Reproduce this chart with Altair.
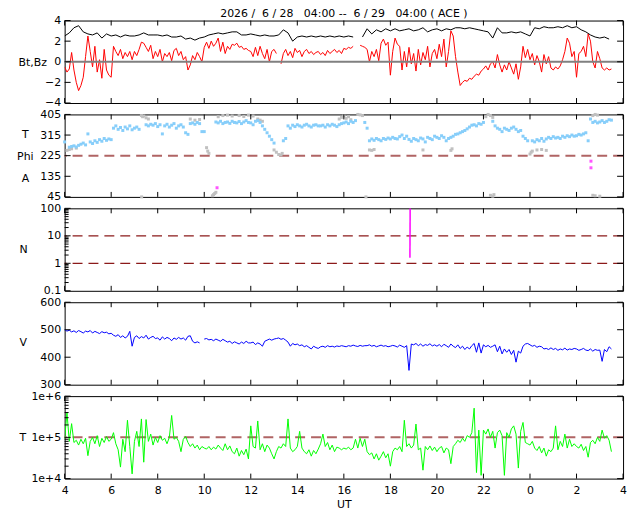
import altair as alt
import pandas as pd

FONT = "DejaVu Sans"
FS = 11
W, H = 562, 83

TITLE = "2026 /  6 / 28   04:00 --  6 / 29   04:00 ( ACE )".replace(" ", "\u00a0")

TICK_HOURS = list(range(4, 29, 2))

# Bz (nT), 0.1 h steps, one row per hour starting at 04 UT
BZ = [
    [-0.5, -1.0, -0.7, 0.9, -0.8, -2.0, -2.8, -2.3, -1.5, 0.5],
    [2.5, 1.0, -0.5, 1.5, -1.0, 0.2, -1.6, 1.2, -0.8, -1.3],
    [-1.5, 1.5, 1.0, 0.6, 1.2, 0.3, 0.9, 0.5, 1.0, 0.2],
    [1.0, 0.6, 1.2, 1.9, 1.8, 1.4, 1.0, 1.6, 0.3, 1.0],
    [0.5, 1.2, 0.0, 0.8, 0.5, 0.9, 0.1, 1.1, 1.3, 0.6],
    [1.0, 0.2, 0.5, -0.8, -0.3, 0.6, 0.2, 0.9, 0.5, 0.0],
    [1.4, 1.9, 1.3, 2.0, 1.5, 1.8, 2.3, 1.0, 1.9, 0.8],
    [1.5, 1.2, 1.7, 1.6, 1.8, 1.4, 1.5, 1.2, 1.3, 1.1],
    [1.0, 0.5, 1.4, 0.6, 1.5, 0.8, 0.3, 1.2, 0.0, 1.0],
    [1.2, 0.8, None, -0.2, 0.8, 1.2, 0.6, 1.0, 0.4, 1.3],
    [0.9, 1.1, 0.5, 1.0, 1.2, 0.8, 1.0, 0.7, 0.9, 1.0],
    [0.7, 0.9, 0.6, 1.1, 0.8, 1.0, 1.2, 0.9, 1.1, 0.8],
    [1.3, 1.2, 1.4, 1.3, 1.5, None, None, 1.6, 1.5, 1.4],
    [1.2, 0.0, 1.0, 0.5, 1.2, 0.1, 1.8, 2.2, 1.6, 1.9],
    [-1.3, 1.0, 2.3, 1.7, 1.5, -0.8, 1.0, -0.5, 1.4, -0.2],
    [0.8, -0.9, 1.2, -0.3, 0.9, 0.2, 1.5, -0.5, 0.8, 1.2],
    [0.3, 1.7, 0.5, 2.2, -0.5, 1.0, 3.0, 2.5, 0.5, -1.0],
    [-2.3, -2.0, -1.8, -1.9, -1.6, -1.7, -1.4, -1.2, -1.3, -0.9],
    [-0.7, -0.4, -0.8, -0.2, 0.0, -0.6, 0.7, -0.3, -1.0, -0.3],
    [-0.8, 0.0, -0.6, -1.2, -0.2, -1.7, -0.5, 1.5, 0.4, 1.2],
    [0.2, 0.8, -0.3, 0.6, 0.0, -1.0, 0.7, -0.2, 0.5, -0.6],
    [-0.8, -0.5, -0.7, -0.4, 0.2, 1.0, 2.3, 1.8, 0.5, 1.0],
    [-1.5, 0.8, 1.0, 1.5, 0.5, 2.7, 2.0, 0.0, -0.6, 1.0],
    [0.3, -0.6, -0.8, -0.6, -0.8, -0.7],
]

# Bt (nT), 0.2 h steps
BT = [
    [2.5, 2.8, 3.3, 3.5, 2.9],
    [2.7, 2.6, 2.8, 2.3, 2.7],
    [2.5, 2.6, 2.4, 2.6, 2.5],
    [2.5, 2.6, 2.8, 2.6, 2.6],
    [2.6, 2.5, 2.6, 2.4, 2.4],
    [2.5, 2.2, 2.3, 2.1, 2.3],
    [2.4, 2.6, 2.7, 2.8, 2.7],
    [2.8, 2.9, 2.9, 2.6, 2.6],
    [2.7, 2.6, 2.5, 2.6, 2.5],
    [2.5, 2.6, 3.1, 2.8, 2.0],
    [2.4, 2.5, 2.4, 2.5, 2.4],
    [2.5, 2.4, 2.5, 2.4, 2.5],
    [2.4, 2.5, 2.4, None, 2.4],
    [3.2, 2.7, 3.1, 2.9, 3.2],
    [3.0, 3.2, 3.0, 3.1, 3.2],
    [3.0, 3.1, 3.3, 2.9, 3.1],
    [3.2, 3.0, 3.2, 3.1, 3.3],
    [3.3, 3.2, 3.3, 3.2, 3.1],
    [3.0, 2.9, 2.3, 3.3, 2.8],
    [2.8, 2.9, 2.8, 2.9, 2.7],
    [2.5, 3.3, 3.2, 3.4, 3.3],
    [3.3, 3.4, 3.3, 3.5, 3.3],
    [3.4, 3.1, 2.9, 2.6, 2.4],
    [2.3, 2.4, 2.2],
]

# Phi (deg), 0.1 h steps, blue points
PHI = [
    [285, None, 262, 265, 268, 263, 270, 275, 280, 272],
    [320, 285, 278, 290, 283, 295, 288, 300, 292, 298],
    [295, 345, 355, 340, 348, 335, 350, 342, 355, 338],
    [345, 350, 340, None, None, 360, 355, 362, 358, 365],
    [352, 360, 320, 355, 362, 350, 358, 365, 345, 355],
    [360, 350, 325, 318, 365, 368, 362, 370, 365, 330],
    [330, None, None, None, None, 372, 368, 375, 365, 370],
    [372, 366, 375, 370, 368, 374, 365, 372, 378, 370],
    [368, 360, 375, 378, 370, 355, 340, 325, 310, 295],
    [280, None, None, None, 290, 300, 355, 345, 358, 352],
    [360, 355, 350, 358, 362, 355, 350, 358, 360, 355],
    [355, 358, 350, 360, 355, 362, 358, 352, 360, 365],
    [368, 372, 365, 375, 370, 378, None, None, None, 370],
    [345, 290, 298, 292, 300, 295, 290, 300, 296, 302],
    [298, 305, 300, 298, 308, 315, 300, 310, 296, 288],
    [300, 295, 290, 302, 298, 285, 305, 300, 295, 310],
    [305, 300, 312, 305, 290, 300, 305, 310, 318, 320],
    [325, 330, 335, 342, 350, 358, 360, 355, 365, 362],
    [370, None, None, None, 375, 355, 345, 340, 330, 345],
    [340, 335, 345, 350, 340, 330, 335, 310, 300, 290],
    [None, 290, 285, 295, 290, 300, 288, 298, 305, 300],
    [308, 302, 305, 300, 310, 305, 312, 308, 315, 310],
    [312, 318, 315, 320, 325, 290, 385, 370, 375, 368],
    [372, 378, 370, 375, 382, 380],
]

PHI_GREY_T = [4.1, 4.2, 4.3, 4.5, 7.3, 7.35, 7.4, 7.5, 7.6, 7.31, 9.4, 9.6, 9.8,
              10.1, 10.15, 10.2, 10.35, 10.4, 10.45, 10.5,
              10.6, 10.8, 11.0, 11.2, 11.5, 11.7, 11.9, 12.1, 12.3, 12.4, 12.5,
              13.0, 13.1, 13.2, 13.3, 13.35,
              15.8, 15.9, 16.0, 16.1, 16.2, 16.3, 16.6, 16.7, 16.8, 16.95,
              17.1, 17.2, 17.3, 19.4, 20.6, 20.65,
              22.1, 22.2, 22.3, 22.4, 22.3, 22.4, 22.45,
              24.0, 24.05, 24.1, 24.3, 24.5, 24.7,
              26.7, 26.8, 26.9, 26.7, 26.8, 27.0]
PHI_GREY_V = [248, 252, 255, 258, 400, 395, 398, 390, 385, 45, 385, 380, 383,
              260, 245, 235, 50, 55, 60, 65,
              395, 400, 402, 398, 400, 396, 402, 398, 385, 380, 375,
              250, 240, 230, 228, 235,
              385, 392, 398, 388, 395, 382, 405, 403, 400, 45,
              250, 248, 252, 250, 248, 255,
              395, 405, 400, 392, 52, 48, 55,
              232, 240, 245, 250, 252, 248,
              400, 405, 402, 52, 50, 48]
PHI_MAG_T = [10.55, 26.62, 26.62]
PHI_MAG_V = [85, 201, 172]

# N (p/cc)
N_T = [18.84, 18.85]
N_V = [1.6, 100]

# V (km/s), 0.1 h steps
V = [
    [500, 495, 498, 492, 496, 490, 497, 493, 488, 495],
    [492, 497, 488, 494, 490, 486, 493, 489, 491, 485],
    [487, 480, 476, 482, 472, 478, 470, 476, 494, 440],
    [472, 478, 468, 475, 470, 480, 466, 472, 476, 468],
    [470, 462, 474, 466, 472, 468, 460, 470, 465, 472],
    [466, 470, 462, 476, 478, 458, 452, 456, 452, None],
    [466, 468, 463, 465, 460, 466, 462, 458, 465, 460],
    [455, 458, 450, 456, 452, 448, 455, 450, 458, 452],
    [452, 455, 446, 452, 448, 440, 458, 462, 466, 462],
    [466, 468, 470, 465, 468, 462, 455, 440, 450, 445],
    [448, 442, 445, 438, 442, 436, 430, 440, 435, 432],
    [438, 440, 436, 442, 438, 440, 437, 441, 439, 442],
    [440, 438, 442, 440, 444, 441, 439, 443, 440, 442],
    [442, 445, 440, 443, 438, 441, 444, 440, 442, 438],
    [440, 443, 441, 437, 444, 440, 436, 442, 352, 448],
    [445, 450, 442, 448, 440, 446, 443, 449, 441, 445],
    [440, 446, 438, 447, 442, 436, 448, 440, 435, 445],
    [432, 440, 428, 437, 430, 442, 450, 418, 452, 415],
    [445, 438, 443, 436, 440, 445, 420, 440, 412, 430],
    [418, 428, 410, 425, 382, 422, 415, 440, 448, 450],
    [445, 440, 443, 436, 440, 438, 430, 432, 428, 434],
    [428, 432, 425, 430, 427, 433, 426, 430, 428, 432],
    [430, 425, 428, 432, 426, 424, 430, 422, 428, 425],
    [426, 385, 428, 420, 438, 430],
]

# T (thousands of K), 0.1 h steps
TEMP = [
    [90, 400, 80, 215, 75, 85, 65, 90, 70, 95],
    [36, 80, 100, 70, 110, 60, 95, 75, 105, 80],
    [90, 130, 70, 50, 19, 90, 45, 260, 60, 13],
    [80, 140, 60, 280, 25, 270, 80, 120, 65, 100],
    [75, 110, 85, 95, 70, 100, 340, 90, 100, 80],
    [45, 90, 105, 75, 60, 70, 55, 65, 50, 60],
    [55, 52, 60, 50, 58, 52, 65, 55, 48, 70],
    [50, 62, 45, 40, 55, 35, 48, 38, 52, 30],
    [190, 60, 55, 250, 50, 70, 45, 65, 55, 40],
    [30, 45, 60, 55, 70, 60, 280, 55, 45, 50],
    [60, 140, 55, 45, 40, 50, 35, 48, 40, 52],
    [70, 120, 60, 75, 50, 65, 45, 58, 55, 50],
    [55, 52, 58, 50, 55, 90, 55, 95, 60, 90],
    [45, 38, 42, 30, 40, 28, 35, 45, 32, 40],
    [20, 45, 55, 50, 60, 45, 260, 60, 70, 55],
    [65, 210, 50, 55, 16, 60, 50, 62, 48, 58],
    [45, 55, 60, 42, 55, 50, 23, 60, 70, 85],
    [75, 95, 80, 110, 100, 130, 510, 14, 150, 12],
    [150, 120, 160, 100, 140, 55, 130, 150, 110, 12],
    [130, 100, 160, 190, 120, 18, 140, 230, 75, 70],
    [65, 80, 55, 48, 60, 42, 55, 35, 50, 45],
    [55, 190, 50, 80, 60, 120, 55, 90, 60, 70],
    [60, 55, 68, 48, 60, 33, 75, 85, 70, 100],
    [80, 150, 95, 110, 85, 45],
]


def series(rows, step, scale=1.0):
    ts, vs, segs = [], [], []
    seg = 0
    for i, row in enumerate(rows):
        for k, v in enumerate(row):
            if v is None:
                seg += 1
                continue
            ts.append(round(4 + i + k * step, 3))
            vs.append(v * scale)
            segs.append(seg)
    return pd.DataFrame({"t": ts, "v": vs, "seg": segs})


XSCALE = alt.Scale(domain=[4, 28], nice=False, zero=False)
XAXIS = alt.Axis(values=TICK_HOURS, labelExpr="'' + (datum.value % 24)", title="UT",
                 ticks=False, domain=False, grid=False, labelPadding=6, labelFlush=False,
                 labelOverlap=False, labelFont=FONT, labelFontSize=FS, titleFont=FONT,
                 titleFontSize=FS, titleFontWeight="normal", titlePadding=3,
                 labelColor="black", titleColor="black")


def yaxis(title, values, tx, ty, align="left", fmt=None, expr=None, lh=None):
    kw = dict(title=title, values=values, titleAngle=0, titleAlign=align,
              titleBaseline="middle", titleX=tx, titleY=ty, ticks=False, domain=False,
              grid=False, labelPadding=4, labelOverlap=False, labelFontSize=FS,
              titleFontSize=FS, labelFont=FONT, titleFont=FONT, titleFontWeight="normal",
              labelColor="black", titleColor="black", labelFlush=False)
    if fmt:
        kw["format"] = fmt
    if expr:
        kw["labelExpr"] = expr
    if lh:
        kw["titleLineHeight"] = lh
    return alt.Axis(**kw)


def encs(yscale, yax, bottom=False):
    xa = XAXIS if bottom else None

    def X():
        return alt.X("t:Q", scale=XSCALE, axis=xa)

    def Y():
        return alt.Y("v:Q", scale=yscale, axis=yax)
    return X, Y


def frame(X, Y, major, minor=()):
    xt = pd.DataFrame({"t": TICK_HOURS})
    yt = pd.DataFrame({"v": major})
    out = [
        alt.Chart(xt).mark_rule(color="black").encode(x=X(), y=alt.value(0), y2=alt.value(5)),
        alt.Chart(xt).mark_rule(color="black").encode(x=X(), y=alt.value(H - 5), y2=alt.value(H)),
        alt.Chart(yt).mark_rule(color="black").encode(y=Y(), x=alt.value(0), x2=alt.value(6)),
        alt.Chart(yt).mark_rule(color="black").encode(y=Y(), x=alt.value(W - 6), x2=alt.value(W)),
    ]
    if minor:
        ym = pd.DataFrame({"v": list(minor)})
        out.append(alt.Chart(ym).mark_rule(color="black").encode(y=Y(), x=alt.value(0), x2=alt.value(4)))
    return out


def refline(Y, value, color, width, dash):
    return alt.Chart(pd.DataFrame({"v": [value]})).mark_rule(
        color=color, strokeWidth=width, strokeDash=dash).encode(y=Y())


def line(df, X, Y, color, width=1.0):
    return alt.Chart(df).mark_line(color=color, strokeWidth=width, clip=True).encode(
        x=X(), y=Y(), detail="seg:N")


# Panel 1: Bt, Bz
X1, Y1 = encs(alt.Scale(domain=[-4, 4], nice=False, zero=False),
              yaxis("Bt,Bz", [-4, -2, 0, 2, 4], -47, 42, fmt="d"))
p1 = alt.layer(
    line(series(BT, 0.2), X1, Y1, "black"),
    line(series(BZ, 0.1), X1, Y1, "#ff0000"),
    refline(Y1, 0, "#808080", 2, [1, 0]),
    *frame(X1, Y1, [-4, -2, 0, 2, 4]),
).properties(width=W, height=H, title=alt.TitleParams(
    TITLE, font=FONT, fontSize=FS, fontWeight="normal", color="black", offset=-4, anchor="middle"))

# Panel 2: Phi
X2, Y2 = encs(alt.Scale(domain=[45, 405], nice=False, zero=False),
              yaxis(["T", "Phi", "A"], [45, 135, 225, 315, 405], -40, 20, align="center", fmt="d", lh=22))
phi_blue = series(PHI, 0.1)
phi_grey = pd.DataFrame({"t": PHI_GREY_T, "v": PHI_GREY_V})
phi_mag = pd.DataFrame({"t": PHI_MAG_T, "v": PHI_MAG_V})
p2 = alt.layer(
    refline(Y2, 225, "#b06464", 2, [10, 6]),
    alt.Chart(phi_grey).mark_square(size=9, color="#c0c0c0", opacity=1).encode(x=X2(), y=Y2()),
    alt.Chart(phi_blue).mark_square(size=9, color="#87cefa", opacity=1).encode(x=X2(), y=Y2()),
    alt.Chart(phi_mag).mark_square(size=9, color="#ff55ff", opacity=1).encode(x=X2(), y=Y2()),
    *frame(X2, Y2, [45, 135, 225, 315, 405]),
).properties(width=W, height=H)

# Panel 3: N
log_minor_n = [0.2, 0.3, 0.4, 0.5, 0.6, 0.7, 0.8, 0.9, 2, 3, 4, 5, 6, 7, 8, 9,
               20, 30, 40, 50, 60, 70, 80, 90]
X3, Y3 = encs(alt.Scale(type="log", domain=[0.1, 100], nice=False),
              yaxis("N", [0.1, 1, 10, 100], -46, 41, fmt="~g"))
p3 = alt.layer(
    refline(Y3, 10, "#8b1a1a", 1.3, [10, 6]),
    refline(Y3, 1, "#8b1a1a", 1.3, [10, 6]),
    line(pd.DataFrame({"t": N_T, "v": N_V, "seg": [0, 0]}), X3, Y3, "#ff00ff", 1.5),
    *frame(X3, Y3, [0.1, 1, 10, 100], log_minor_n),
).properties(width=W, height=H)

# Panel 4: V
X4, Y4 = encs(alt.Scale(domain=[300, 600], nice=False, zero=False),
              yaxis("V", [300, 400, 500, 600], -46, 41, fmt="d"))
p4 = alt.layer(
    line(series(V, 0.1), X4, Y4, "#0000ff"),
    *frame(X4, Y4, [300, 400, 500, 600]),
).properties(width=W, height=H)

# Panel 5: T
log_minor_t = [2e4, 3e4, 4e4, 5e4, 6e4, 7e4, 8e4, 9e4, 2e5, 3e5, 4e5, 5e5, 6e5, 7e5, 8e5, 9e5]
X5, Y5 = encs(alt.Scale(type="log", domain=[1e4, 1e6], nice=False),
              yaxis("T", [1e4, 1e5, 1e6], -46, 42,
                    expr="'1e+' + round(log(datum.value) / LN10)"), bottom=True)
p5 = alt.layer(
    refline(Y5, 1e5, "#b06464", 2, [10, 6]),
    line(series(TEMP, 0.1, 1000.0), X5, Y5, "#00ff00"),
    *frame(X5, Y5, [1e4, 1e5, 1e6], log_minor_t),
).properties(width=W, height=H)

chart = alt.vconcat(p1, p2, p3, p4, p5, spacing=11.5, bounds="flush").properties(
    padding={"left": 8, "top": -3, "right": 5, "bottom": 0},
    background="white",
).configure_view(stroke="black", strokeWidth=1)

chart.save("out.html", embed_options={"renderer": "svg", "actions": False})
